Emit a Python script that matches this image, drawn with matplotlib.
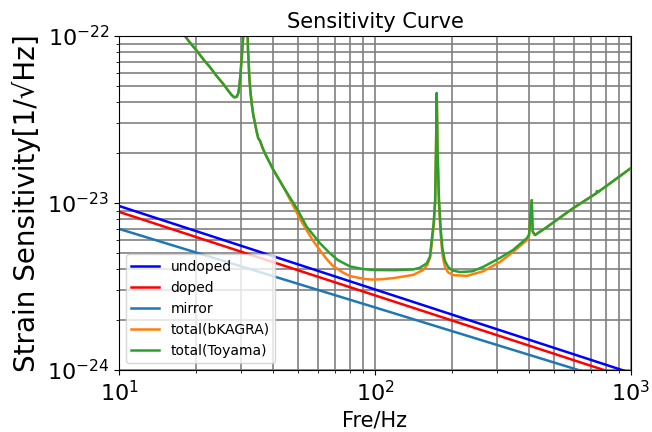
import numpy as np
import matplotlib
matplotlib.use("Agg")
import matplotlib.pyplot as plt

# straight noise lines (Hz, strain)
f_line = [10, 1000]
undoped = [9.6e-24, 9.6e-25]
doped = [8.85e-24, 8.85e-25]
f_mirror = [10, 100, 1000]
mirror = [7.0e-24, 2.37e-24, 8.0e-25]

# total(Toyama)
f_toyama = [10, 18.1, 18.94, 20.12, 21.35, 22.68, 24.07, 25.55, 26.73, 27.55,
            28.21, 28.83, 29.24, 29.51, 29.77, 30.04, 30.31, 30.58, 31.2,
            31.82, 31.91, 32.11, 32.28, 32.57, 32.98, 33.46, 33.98, 34.5, 35.0,
            35.54, 36.41, 37.18, 38.3, 40.07, 43.84, 49.44, 54.1, 60.97, 66.7,
            71.5, 79.87, 90.0, 98.6, 120, 141.1, 149.9, 159.2, 164.0, 166.5,
            169.5, 171.8, 173.1, 174.2, 175.5, 177.8, 180.5, 183.5, 187.5, 192.9,
            200, 214.8, 240, 264.2, 307.7, 346.0, 392.5, 399.6, 409.4, 413.0,
            421.7, 469.7, 593.5, 730, 736, 742, 850, 1000]
s_toyama = [3.1e-22, 1.0e-22, 9.12e-23, 8.17e-23, 7.25e-23, 6.5e-23, 5.76e-23,
            5.16e-23, 4.7e-23, 4.43e-23,
            4.29e-23, 4.33e-23, 4.54e-23, 4.97e-23, 5.71e-23, 6.86e-23, 8.24e-23,
            1.0e-22, 4.0e-22,
            1.0e-22, 8.24e-23, 6.86e-23, 5.71e-23, 4.75e-23, 3.95e-23, 3.37e-23,
            3.0e-23, 2.67e-23, 2.44e-23,
            2.36e-23, 2.13e-23, 1.98e-23, 1.81e-23, 1.58e-23, 1.25e-23, 9.3e-24,
            7.21e-24, 5.74e-24, 5.0e-24,
            4.56e-24, 4.17e-24, 4.02e-24, 3.97e-24, 3.96e-24, 4.0e-24, 4.1e-24,
            4.35e-24, 4.77e-24, 6.0e-24,
            7.6e-24, 1.04e-23, 2.07e-23, 4.56e-23, 2.07e-23, 1.04e-23, 7.0e-24,
            5.3e-24, 4.5e-24, 4.15e-24,
            3.95e-24, 3.86e-24, 3.9e-24, 4.14e-24, 4.69e-24, 5.23e-24, 6.17e-24,
            6.43e-24, 1.04e-23, 6.73e-24,
            6.43e-24, 7.18e-24, 9.3e-24, 1.14e-23, 1.18e-23, 1.16e-23, 1.35e-23,
            1.62e-23]

# total(bKAGRA)
f_bkagra = [10, 18.1, 18.94, 20.12, 21.35, 22.68, 24.07, 25.55, 26.73, 27.55,
            28.21, 28.83, 29.24, 29.51, 29.77, 30.04, 30.31, 30.58, 31.2,
            31.82, 31.91, 32.11, 32.28, 32.57, 32.98, 33.46, 33.98, 34.5, 35.0,
            35.54, 36.41, 37.18, 38.3, 40.07, 43.84, 48.0, 51.0, 54.3, 57.5,
            61.0, 64.5, 68.5, 75.0, 80.0, 90.0, 96.0, 105, 118, 141, 154, 160,
            164, 166.5, 169.5, 171.8, 173.1, 174.2, 175.5, 177.8, 180.5, 183.5,
            187.5, 192.9, 201.7, 228.8, 264.2, 307.7, 346.0, 392.5, 399.6, 409.4,
            413.0, 421.7, 469.7, 593.5, 730, 850, 1000]
s_bkagra = [3.1e-22, 1.0e-22, 9.12e-23, 8.17e-23, 7.25e-23, 6.5e-23, 5.76e-23,
            5.16e-23, 4.7e-23, 4.43e-23,
            4.29e-23, 4.33e-23, 4.54e-23, 4.97e-23, 5.71e-23, 6.86e-23, 8.24e-23,
            1.0e-22, 4.0e-22,
            1.0e-22, 8.24e-23, 6.86e-23, 5.71e-23, 4.75e-23, 3.95e-23, 3.37e-23,
            3.0e-23, 2.67e-23, 2.44e-23,
            2.36e-23, 2.13e-23, 1.98e-23, 1.81e-23, 1.58e-23, 1.25e-23, 9.6e-24,
            8.0e-24, 6.8e-24, 5.9e-24,
            5.2e-24, 4.65e-24, 4.2e-24, 3.83e-24, 3.65e-24, 3.52e-24, 3.48e-24,
            3.49e-24, 3.55e-24, 3.71e-24, 3.97e-24, 4.25e-24,
            4.7e-24, 5.6e-24, 7.3e-24, 1.0e-23, 2.05e-23, 4.5e-23, 2.05e-23,
            1.0e-23, 6.5e-24, 4.9e-24,
            4.15e-24, 3.85e-24, 3.7e-24, 3.66e-24, 3.9e-24, 4.43e-24, 5.09e-24,
            6.0e-24, 6.43e-24, 1.04e-23,
            6.73e-24, 6.43e-24, 7.18e-24, 9.3e-24, 1.14e-23, 1.35e-23, 1.62e-23]


def plot_sensitivity():
    fig = plt.figure(figsize=(6.52, 4.32), dpi=100)
    ax = fig.add_axes([0.1825, 0.1435, 0.7853, 0.7732])

    ax.plot(f_line, undoped, color="b", lw=1.8, label="undoped")
    ax.plot(f_line, doped, color="r", lw=1.8, label="doped")
    ax.plot(f_mirror, mirror, color="tab:blue", lw=1.8, label="mirror")
    ax.plot(f_bkagra, s_bkagra, color="tab:orange", lw=1.8, label="total(bKAGRA)")
    ax.plot(f_toyama, s_toyama, color="tab:green", lw=1.8, label="total(Toyama)")

    ax.set_xscale("log")
    ax.set_yscale("log")
    ax.set_xlim(10, 1000)
    ax.set_ylim(1e-24, 1e-22)

    ax.grid(True, which="both", color="0.5", lw=1.2)
    ax.tick_params(which="major", labelsize=16)

    ax.set_title("Sensitivity Curve", fontsize=15)
    ax.set_xlabel("Fre/Hz", fontsize=15)
    ax.set_ylabel("Strain Sensitivity[1/\u221aHz]", fontsize=20)
    ax.legend(loc="lower left", fontsize=10)

    fig.savefig("out.png", dpi=100)


if __name__ == "__main__":
    plot_sensitivity()
